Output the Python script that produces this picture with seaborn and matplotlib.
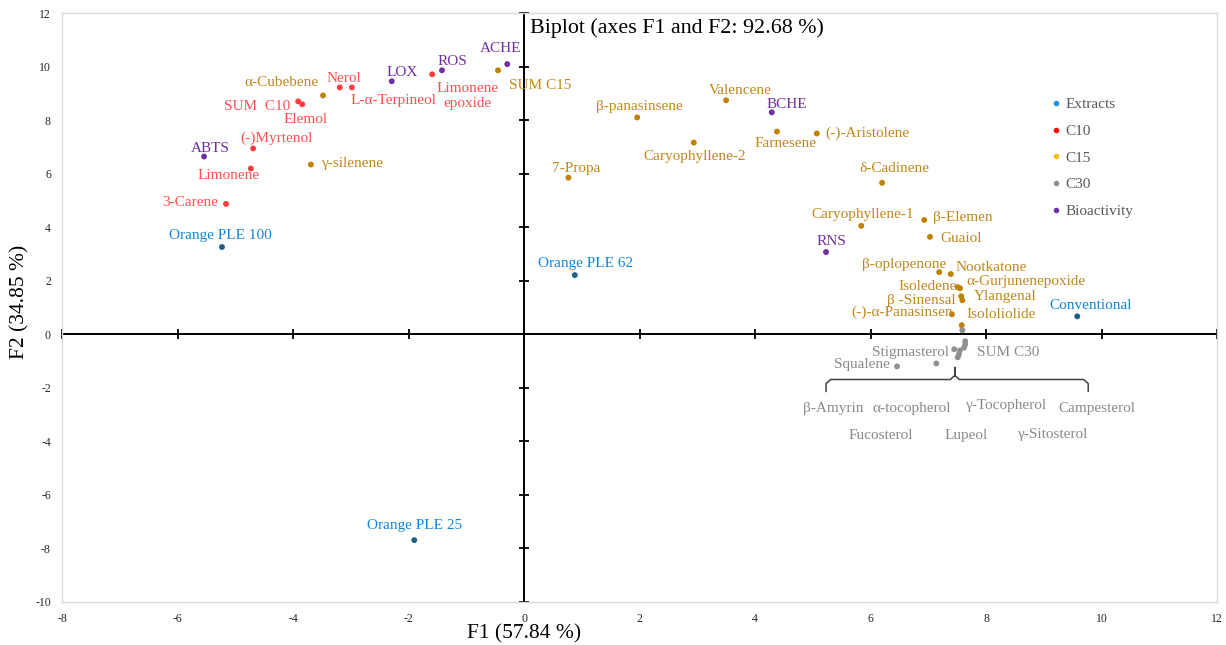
import numpy as np
import pandas as pd
import matplotlib
matplotlib.use("Agg")
import matplotlib.pyplot as plt
from matplotlib.lines import Line2D
import seaborn as sns

# ---------------- data ----------------
names = [
    "Orange PLE 100", "Orange PLE 62", "Orange PLE 25", "Conventional",
    "Limonene", "3-Carene", "(-)Myrtenol", "SUM  C10", "Elemol", "Nerol",
    "L-α-Terpineol", "Limonene\nepoxide",
    "α-Cubebene", "γ-silenene", "SUM C15", "β-panasinsene", "Valencene",
    "Farnesene", "(-)-Aristolene", "Caryophyllene-2", "7-Propa", "δ-Cadinene",
    "Caryophyllene-1", "β-Elemen", "Guaiol", "β-oplopenone", "Nootkatone",
    "Isoledene", "α-Gurjunenepoxide", "β -Sinensal", "Ylangenal",
    "(-)-α-Panasinsen", "Isololiolide",
    "Stigmasterol", "Squalene", "SUM C30", "β-Amyrin", "α-tocopherol",
    "γ-Tocopherol", "Campesterol", "Fucosterol", "Lupeol", "γ-Sitosterol",
    "ABTS", "LOX", "ROS", "ACHE", "BCHE", "RNS",
]
f1 = [
    -5.23, 0.88, -1.90, 9.58,
    -4.73, -5.16, -4.69, -3.91, -3.84, -3.19, -2.98, -1.59,
    -3.48, -3.69, -0.45, 1.96, 3.50, 4.38, 5.07, 2.94, 0.77, 6.20,
    5.84, 6.93, 7.03, 7.19, 7.39, 7.51, 7.55, 7.57, 7.59, 7.41, 7.58,
    7.45, 6.46, 7.64, 7.14, 7.59, 7.64, 7.62, 7.55, 7.53, 7.51,
    -5.54, -2.29, -1.42, -0.29, 4.29, 5.23,
]
f2 = [
    3.26, 2.21, -7.69, 0.67,
    6.19, 4.87, 6.94, 8.70, 8.59, 9.22, 9.22, 9.71,
    8.92, 6.34, 9.86, 8.10, 8.74, 7.57, 7.50, 7.16, 5.85, 5.66,
    4.05, 4.27, 3.64, 2.32, 2.25, 1.76, 1.72, 1.42, 1.27, 0.75, 0.34,
    -0.56, -1.20, -0.38, -1.09, 0.15, -0.26, -0.50, -0.60, -0.75, -0.86,
    6.64, 9.45, 9.86, 10.09, 8.29, 3.07,
]
groups = (["Extracts"] * 4 + ["C10"] * 8 + ["C15"] * 21 + ["C30"] * 10
          + ["Bioactivity"] * 6)

legend_names = ["Extracts", "C10", "C15", "C30", "Bioactivity"]
x_ticks = list(range(-8, 13, 2))
y_ticks = list(range(-10, 13, 2))

# ---------------- styles ----------------
dot_colors = {"Extracts": "#1f5f8c", "C10": "#ff3d3d", "C15": "#c08000",
              "C30": "#909090", "Bioactivity": "#7030a0"}
text_colors = {"Extracts": "#0f86d8", "C10": "#ff4f4f", "C15": "#c0871c",
               "C30": "#8a8a8a", "Bioactivity": "#7030a0"}
legend_colors = {"Extracts": "#1f8fe0", "C10": "#ff0000", "C15": "#ffc000",
                 "C30": "#909090", "Bioactivity": "#7030a0"}

# label placement: ("px", dx, dy) offset in pixels, or ("data", x, y) for the
# labels listed under the brace
label_pos = [
    ("px", -2, 11), ("px", 11, 12), ("px", 0, 15), ("px", 13, 11),
    ("px", -22, -7), ("px", -36, 1), ("px", 23, 10), ("px", -41, -5),
    ("px", 3, -15), ("px", 4, 9), ("px", 42, -13), ("px", 35, -22),
    ("px", -42, 13), ("px", 42, 1), ("px", 42, -15), ("px", 2, 11),
    ("px", 14, 10), ("px", 9, -12), ("px", 51, 0), ("px", 1, -14),
    ("px", 8, 9), ("px", 12, 14),
    ("px", 1, 11), ("px", 39, 2), ("px", 31, -2), ("px", -35, 8),
    ("px", 40, 7), ("px", -30, 1), ("px", 66, 7), ("px", -40, -4),
    ("px", 43, 4), ("px", -50, 2), ("px", 39, 11),
    ("px", -44, -3), ("px", -35, 2), ("px", 43, -8),
    ("data", 5.35, -2.77), ("data", 6.72, -2.77), ("data", 8.35, -2.66),
    ("data", 9.92, -2.77), ("data", 6.18, -3.79), ("data", 7.65, -3.79),
    ("data", 9.16, -3.75),
    ("px", 6, 8), ("px", 10, 9), ("px", 10, 9), ("px", -7, 16),
    ("px", 15, 8), ("px", 5, 11),
]

df = pd.DataFrame({"name": names, "F1": f1, "F2": f2, "group": groups})

sns.set_style("white")
plt.rcParams["font.family"] = ["Liberation Serif", "DejaVu Serif"]
plt.rcParams["axes.unicode_minus"] = False

fig = plt.figure(figsize=(12.26, 6.45), dpi=100)
ax = fig.add_axes([62 / 1226, 1 - 602 / 645, (1217 - 62) / 1226, (602 - 13) / 645])

ax.set_xlim(-8, 12)
ax.set_ylim(-10, 12)

# zero axes with cross ticks
ax.axhline(0, color="black", lw=1.4, zorder=1)
ax.axvline(0, color="black", lw=1.4, zorder=1)
ax.plot(x_ticks, np.zeros(len(x_ticks)), ls="none", marker="|", ms=6.5, mew=1.3,
        color="black", zorder=1, clip_on=False)
ax.plot(np.zeros(len(y_ticks)), y_ticks, ls="none", marker="_", ms=6.5, mew=1.3,
        color="black", zorder=1, clip_on=False)

sns.scatterplot(data=df, x="F1", y="F2", hue="group", palette=dot_colors,
                s=18, edgecolor="none", legend=False, ax=ax, zorder=3)

for n, x, y, g, (mode, a, b) in zip(names, f1, f2, groups, label_pos):
    if mode == "px":
        ax.annotate(n, (x, y), xytext=(a, b), textcoords="offset pixels",
                    ha="center", va="center", fontsize=11,
                    color=text_colors[g], linespacing=1.2, zorder=4)
    else:
        ax.annotate(n, (x, y), xytext=(a, b), textcoords="data",
                    ha="center", va="center", fontsize=11,
                    color=text_colors[g], zorder=4)

# brace grouping C30 labels
bx_c, bx_l, bx_r = 7.46, 5.23, 9.77
by_top, by_mid, by_bot = -1.24, -1.69, -2.14
r = 0.08
brace_x = [bx_l, bx_l, bx_l + r, bx_c - r, bx_c, bx_c, bx_c, bx_c + r, bx_r - r, bx_r, bx_r]
brace_y = [by_bot, by_mid - 0.15, by_mid, by_mid, by_mid + 0.15, by_top,
           by_mid + 0.15, by_mid, by_mid, by_mid - 0.15, by_bot]
ax.plot(brace_x, brace_y, color="#404040", lw=1.1, zorder=2)

# frame & ticks
for s in ax.spines.values():
    s.set_visible(True)
    s.set_color("#d9d9d9")
    s.set_linewidth(1.0)
ax.set_xticks(x_ticks)
ax.set_yticks(y_ticks)
ax.tick_params(length=0, labelsize=8.5, colors="#262626", pad=8)
ax.grid(False)

ax.set_xlabel("F1 (57.84 %)", fontsize=15.5, color="black")
ax.xaxis.set_label_coords((524 - 62) / 1155, -0.038)
ax.set_ylabel("F2 (34.85 %)", fontsize=15.5, color="black")
ax.yaxis.set_label_coords(-0.028, 0.51)

ax.text(0.1, 11.44, "Biplot (axes F1 and F2: 92.68 %)", fontsize=15.8,
        ha="left", va="center", color="black")

handles = [Line2D([0], [0], marker="o", ls="none", markersize=4,
                  markerfacecolor=legend_colors[k], markeredgecolor="none",
                  label=k) for k in legend_names]
leg = ax.legend(handles=handles, loc="upper left",
                bbox_to_anchor=(1035 / 1226, 1 - 84 / 645),
                bbox_transform=fig.transFigure, frameon=False, fontsize=11,
                handletextpad=0.1, handlelength=1.0, labelspacing=0.85)
for t in leg.get_texts():
    t.set_color("#595959")

fig.savefig("out.png", dpi=100)
